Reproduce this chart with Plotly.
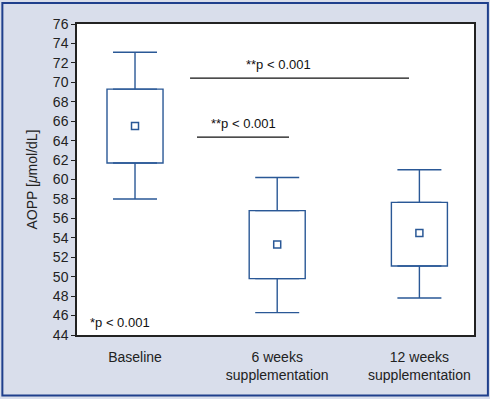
import plotly.graph_objects as go

categories = ["Baseline", "6 weeks<br>supplementation", "12 weeks<br>supplementation"]
upper_whisker = [73.1, 60.2, 61.0]
q3 = [69.3, 56.8, 57.65]
mean = [65.5, 53.3, 54.5]
q1 = [61.7, 49.8, 51.1]
lower_whisker = [58.0, 46.3, 47.8]
y_ticks = list(range(44, 77, 2))

# significance brackets: (x_start, x_end, y_line, label, x_text, y_text)
brackets = [
    (0.387, 1.927, 70.44, "**p < 0.001", 1.006, 71.8),
    (0.436, 1.083, 64.37, "**p < 0.001", 0.76, 65.8),
]
footnote = "*p < 0.001"

BOX = "#2a5896"
WHISK = "#5f86b8"
font_narrow = "Liberation Sans Narrow, Arial Narrow, Liberation Sans, Arial, sans-serif"
font_reg = "Liberation Sans, Arial, sans-serif"

box_height = [a - b for a, b in zip(q3, q1)]
up_len = [a - b for a, b in zip(upper_whisker, q3)]
low_len = [a - b for a, b in zip(q1, lower_whisker)]

fig = go.Figure()
# box body (interquartile range)
fig.add_trace(go.Bar(
    x=categories, y=box_height, base=q1, width=0.394,
    marker=dict(color="white", line=dict(color=BOX, width=1.4)),
    showlegend=False, hoverinfo="skip",
))
# upper whiskers
fig.add_trace(go.Scatter(
    x=categories, y=q3, mode="markers", marker=dict(size=1, opacity=0),
    error_y=dict(type="data", symmetric=False, array=up_len, arrayminus=[0, 0, 0],
                 color=BOX, thickness=1.4, width=22),
    showlegend=False, hoverinfo="skip",
))
# lower whiskers
fig.add_trace(go.Scatter(
    x=categories, y=q1, mode="markers", marker=dict(size=1, opacity=0),
    error_y=dict(type="data", symmetric=False, array=[0, 0, 0], arrayminus=low_len,
                 color=BOX, thickness=1.4, width=22),
    showlegend=False, hoverinfo="skip",
))
# means
fig.add_trace(go.Scatter(
    x=categories, y=mean, mode="markers",
    marker=dict(symbol="square-open", size=7, color=BOX, line=dict(width=1.5, color=BOX)),
    showlegend=False, hoverinfo="skip",
))

for x0, x1, yl, label, xt, yt in brackets:
    fig.add_shape(type="line", xref="x", yref="y", x0=x0, x1=x1, y0=yl, y1=yl,
                  line=dict(color="#111111", width=1.3))
    fig.add_annotation(x=xt, y=yt, xref="x", yref="y", text=label, showarrow=False,
                       font=dict(family=font_reg, size=13, color="#111111"))

fig.add_annotation(x=-0.33, y=45.3, xref="x", yref="y", text=footnote, showarrow=False,
                   xanchor="left", font=dict(family=font_reg, size=13, color="#111111"))

# outer frame
fig.add_shape(type="rect", xref="paper", yref="paper",
              x0=-0.188, x1=1.035, y0=-0.1945, y1=1.0675,
              line=dict(color="#1f3f8c", width=2), layer="below")

fig.update_layout(
    width=490, height=399,
    margin=dict(l=77, r=16, t=24, b=64),
    paper_bgcolor="#d9deeb", plot_bgcolor="white",
    font=dict(family=font_narrow, size=14, color="#222222"),
)
fig.update_xaxes(
    range=[-0.408, 2.384], showgrid=False, zeroline=False,
    showline=True, linecolor="#222222", linewidth=1.5, mirror=True,
    ticks="", ticklabelstandoff=8,
    tickfont=dict(family=font_narrow, size=14, color="#222222"),
)
fig.update_yaxes(
    range=[44, 76], tickvals=y_ticks, showgrid=False, zeroline=False,
    showline=True, linecolor="#222222", linewidth=1.5, mirror=True,
    ticks="outside", ticklen=4, tickwidth=1, tickcolor="#222222",
    tickfont=dict(family=font_narrow, size=14, color="#222222"),
    title=dict(text="AOPP [<i>μ</i>mol/dL]", standoff=12,
               font=dict(family=font_narrow, size=14, color="#222222")),
)

fig.write_html("out.html", config={"displayModeBar": False},
               post_script="document.body.style.margin='0';document.body.style.overflow='hidden';")
